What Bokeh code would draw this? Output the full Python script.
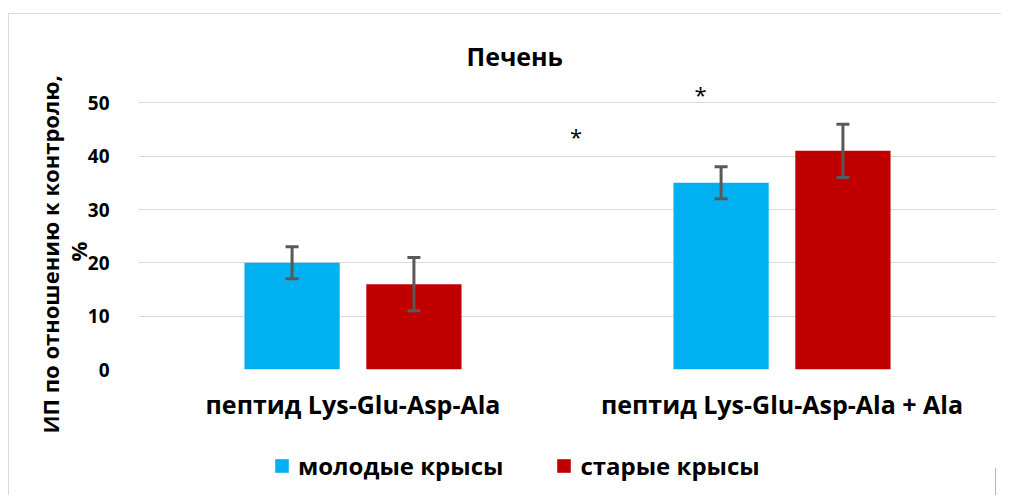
from bokeh.plotting import figure
from bokeh.layouts import column
from bokeh.models import (FactorRange, Range1d, FixedTicker, Whisker, TeeHead,
                          ColumnDataSource, Legend, LegendItem, Title)
from bokeh.transform import dodge
from bokeh.core.properties import value
from bokeh.embed import file_html
from bokeh.resources import INLINE

# ---- data ----
title_text = "Печень"
y_label = "ИП по отношению к контролю,"
y_label2 = "%"
categories = ["пептид Lys-Glu-Asp-Ala", "пептид Lys-Glu-Asp-Ala + Ala"]
series_names = ["молодые крысы", "старые крысы"]
young = [20, 35]
young_err = [3, 3]
old = [16, 41]
old_err = [5, 5]
y_ticks = [0, 10, 20, 30, 40, 50]
star_text = ["*", "*"]
star_cat_index = [1, 1]
star_offset = [-0.48, -0.19]
star_y = [43.8, 51.7]

COL_YOUNG = "#00B0F0"
COL_OLD = "#C00000"
ERR_COL = "#595959"
GRID_COL = "#D9D9D9"
TXT = "#000000"
FONT = "Open Sans"

src = ColumnDataSource(dict(
    cat=categories,
    young=young, young_lo=[v - e for v, e in zip(young, young_err)],
    young_hi=[v + e for v, e in zip(young, young_err)],
    old=old, old_lo=[v - e for v, e in zip(old, old_err)],
    old_hi=[v + e for v, e in zip(old, old_err)],
))

p = figure(x_range=FactorRange(*categories), y_range=Range1d(0, 54),
           width=992, height=426, frame_width=857, frame_height=287,
           output_backend="svg", toolbar_location=None,
           min_border_left=129, min_border_right=6, min_border_top=67,
           min_border_bottom=72)
p.outline_line_color = None
p.background_fill_color = "white"
p.border_fill_color = "white"
p.styles = {"margin-left": "8px", "margin-top": "13px",
            "border-left": "1px solid #D9D9D9", "border-top": "1px solid #D9D9D9"}

OFF = 0.142
W = 0.222
r_young = p.vbar(x=dodge("cat", -OFF, range=p.x_range), top="young", width=W,
                 source=src, fill_color=COL_YOUNG, line_color=None)
r_old = p.vbar(x=dodge("cat", OFF, range=p.x_range), top="old", width=W,
               source=src, fill_color=COL_OLD, line_color=None)

for off, lo, hi in [(-OFF, "young_lo", "young_hi"), (OFF, "old_lo", "old_hi")]:
    w = Whisker(source=src, base=dodge("cat", off, range=p.x_range),
                lower=lo, upper=hi, line_color=ERR_COL, line_width=3,
                level="overlay",
                upper_head=TeeHead(size=13, line_color=ERR_COL, line_width=3),
                lower_head=TeeHead(size=13, line_color=ERR_COL, line_width=3))
    p.add_layout(w)

# asterisks
star_src = ColumnDataSource(dict(
    x=[i + 0.5 + o for i, o in zip(star_cat_index, star_offset)],
    y=star_y, t=star_text))
p.text(x="x", y="y", text="t", source=star_src, text_align="center",
       text_baseline="middle", text_font=value(FONT), text_font_size="22px",
       text_color=TXT)

# axes
p.yaxis.ticker = FixedTicker(ticks=y_ticks)
p.ygrid.ticker = FixedTicker(ticks=y_ticks)
p.ygrid.grid_line_color = GRID_COL
p.ygrid.grid_line_width = 1
p.xgrid.grid_line_color = None
for ax in (p.xaxis, p.yaxis):
    ax.axis_line_color = None
    ax.major_tick_line_color = None
    ax.minor_tick_line_color = None
    ax.major_label_text_font = FONT
    ax.major_label_text_font_style = "bold"
    ax.major_label_text_color = TXT
p.yaxis.major_label_text_font_size = "19px"
p.yaxis.major_label_standoff = 23
p.xaxis.major_label_text_font_size = "25px"
p.xaxis.major_label_standoff = 11

# title
p.title.text = title_text
p.title.align = "left"
p.title.offset = 328
p.title.standoff = 17
p.title.text_font = FONT
p.title.text_font_size = "25px"
p.title.text_font_style = "bold"
p.title.text_color = TXT

# y label (two lines) as side titles
p.add_layout(Title(text=y_label2, align="left", offset=108, standoff=-16,
                   text_font=FONT, text_font_size="22px", text_font_style="bold",
                   text_color=TXT), "left")
p.add_layout(Title(text=y_label, align="left", offset=-64, standoff=8,
                   text_font=FONT, text_font_size="22px", text_font_style="bold",
                   text_color=TXT), "left")

# legend strip below the chart (legend keys use the same fill colours;
# the key renderers sit outside the visible range)
lf = figure(width=992, height=55, output_backend="svg", toolbar_location=None,
            x_range=Range1d(0, 1), y_range=Range1d(0, 1),
            min_border_left=0, min_border_right=0, min_border_top=0,
            min_border_bottom=0)
lf.axis.visible = False
lf.grid.visible = False
lf.outline_line_color = None
lf.border_fill_color = "white"
lf.styles = {"margin-left": "8px", "border-left": "1px solid #D9D9D9"}
k_young = lf.vbar(x=[5], top=[0.5], width=0.1, fill_color=COL_YOUNG, line_color=None)
k_old = lf.vbar(x=[5], top=[0.5], width=0.1, fill_color=COL_OLD, line_color=None)
legend = Legend(items=[LegendItem(label=series_names[0], renderers=[k_young]),
                       LegendItem(label=series_names[1], renderers=[k_old])],
                orientation="horizontal", location=(135, 13),
                glyph_width=17, glyph_height=17, label_standoff=8, spacing=52,
                padding=0, margin=0, border_line_color=None,
                background_fill_alpha=0,
                label_text_font=FONT, label_text_font_size="24px",
                label_text_font_style="bold", label_text_color=TXT)
lf.add_layout(legend, "center")

layout = column(p, lf, spacing=0)
open("out.html", "w").write(file_html(layout, INLINE))
